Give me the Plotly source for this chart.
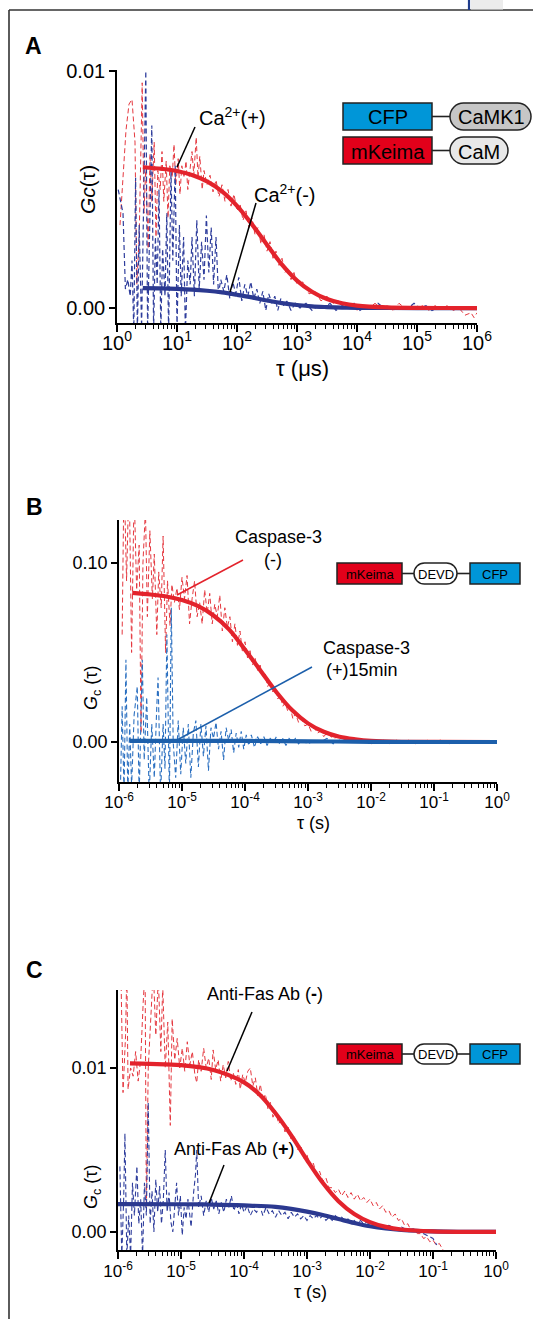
import plotly.graph_objects as go

W, H = 533, 1319
OX, OY = 0, 0   # the page margin is removed below, so positions are page pixels
FONT = "Liberation Sans, Arial, Helvetica, sans-serif"

# ================= DATA =================
# Panel A : tau in microseconds, stored as log10(tau); Gc(tau)
a_fit_logtau = [0.43, 0.75, 1.0, 1.25, 1.5, 1.75, 2.0, 2.25, 2.5, 2.75, 3.0, 3.25, 3.5, 3.75, 4.0, 4.5, 5.0, 5.5, 6.0]
a_fit_ca_plus = [0.00594, 0.00587, 0.00578, 0.00561, 0.00534, 0.00492, 0.00431, 0.00353, 0.00267, 0.00183,
                 0.00116, 0.00069, 0.00038, 0.00020, 0.00010, 0.000025, 0.000006, 0.000002, 0.0]
a_fit_ca_minus = [0.00084, 0.00083, 0.00081, 0.00078, 0.00073, 0.00066, 0.00056, 0.00045, 0.00032, 0.00021,
                  0.00013, 0.00007, 0.00004, 0.00002, 0.00001, 0.000003, 0.0, 0.0, 0.0]

a_data_ca_plus = [
    (0.05, 0.0035), (0.10, 0.0055), (0.15, 0.0075), (0.20, 0.0086), (0.25, 0.0088), (0.30, 0.0070),
    (0.33, 0.0010), (0.37, 0.0030), (0.42, 0.0095), (0.45, 0.0040), (0.48, 0.0060), (0.52, 0.0025),
    (0.55, 0.0065), (0.58, 0.0045), (0.62, 0.0070), (0.65, 0.0030), (0.68, 0.0058), (0.72, 0.0050),
    (0.75, 0.0066), (0.78, 0.0045), (0.82, 0.0062), (0.85, 0.0038), (0.88, 0.0060), (0.92, 0.0055),
    (0.95, 0.0069), (0.98, 0.0052), (1.02, 0.0063), (1.05, 0.0048), (1.08, 0.0060), (1.12, 0.0055),
    (1.15, 0.0062), (1.18, 0.0050), (1.22, 0.0058), (1.25, 0.0066), (1.28, 0.0056), (1.32, 0.0072),
    (1.35, 0.0055), (1.38, 0.0064), (1.42, 0.0050), (1.45, 0.0058), (1.50, 0.0052), (1.55, 0.0056),
    (1.60, 0.0049), (1.65, 0.0054), (1.70, 0.0047), (1.75, 0.0052), (1.80, 0.0045), (1.85, 0.0050),
    (1.90, 0.0043), (1.95, 0.0048), (2.00, 0.0041), (2.05, 0.0044), (2.10, 0.0037), (2.15, 0.0041),
    (2.20, 0.0034), (2.25, 0.0038), (2.30, 0.0031), (2.35, 0.0034), (2.40, 0.0027), (2.45, 0.0031),
    (2.50, 0.0024), (2.55, 0.0028), (2.60, 0.0021), (2.65, 0.0024), (2.70, 0.0018), (2.75, 0.0021),
    (2.80, 0.0015), (2.85, 0.0017), (2.90, 0.0012), (2.95, 0.0015), (3.00, 0.0010), (3.10, 0.0011),
    (3.20, 0.0006), (3.30, 0.0007), (3.40, 0.0003), (3.50, 0.0005), (3.60, 0.0002), (3.70, 0.0003),
    (3.80, 0.0000), (3.90, 0.0002), (4.00, -0.0001), (4.10, 0.0001), (4.20, 0.0000), (4.30, 0.0002),
    (4.40, 0.0000), (4.50, 0.0001), (4.60, -0.0001), (4.70, 0.0002), (4.80, 0.0000), (4.90, 0.0001),
    (5.00, 0.0000), (5.10, 0.0001), (5.20, -0.0001), (5.30, 0.0001), (5.40, 0.0000), (5.50, 0.0001),
    (5.60, -0.0001), (5.70, 0.0000), (5.80, -0.0003), (5.90, -0.0002), (5.95, -0.0004), (6.00, -0.0002),
]
a_data_ca_minus = [
    (0.02, 0.0050), (0.06, 0.0045), (0.10, 0.0040), (0.14, 0.0008), (0.18, 0.0012), (0.22, 0.0005),
    (0.25, 0.0020), (0.28, -0.0010), (0.31, 0.0055), (0.34, -0.0010), (0.37, 0.0035), (0.41, -0.0008),
    (0.45, 0.0045), (0.48, 0.0100), (0.51, -0.0010), (0.55, 0.0040), (0.58, 0.0077), (0.61, -0.0010),
    (0.64, 0.0030), (0.67, 0.0010), (0.70, 0.0050), (0.73, -0.0010), (0.76, 0.0025), (0.80, 0.0005),
    (0.83, 0.0040), (0.86, -0.0010), (0.90, 0.0058), (0.93, 0.0020), (0.97, 0.0060), (1.00, -0.0008),
    (1.04, 0.0035), (1.07, 0.0005), (1.11, 0.0030), (1.14, -0.0010), (1.18, 0.0020), (1.22, 0.0010),
    (1.25, 0.0030), (1.29, 0.0005), (1.33, 0.0037), (1.37, 0.0008), (1.41, 0.0028), (1.45, 0.0012),
    (1.49, 0.0039), (1.53, 0.0015), (1.57, 0.0034), (1.61, 0.0010), (1.65, 0.0030), (1.69, 0.0006),
    (1.73, 0.0012), (1.78, 0.0007), (1.83, 0.0014), (1.88, 0.0004), (1.93, 0.0011), (1.98, 0.0006),
    (2.03, 0.0013), (2.08, 0.0003), (2.13, 0.0010), (2.18, 0.0005), (2.23, 0.0011), (2.28, 0.0004),
    (2.33, 0.0008), (2.38, 0.0002), (2.43, 0.0007), (2.48, -0.0001), (2.53, 0.0006), (2.58, 0.0002),
    (2.63, 0.0005), (2.68, -0.0001), (2.73, 0.0004), (2.78, 0.0001), (2.83, 0.0003), (2.90, -0.0001),
    (2.97, 0.0002), (3.05, 0.0000), (3.15, 0.0002), (3.25, -0.0001), (3.35, 0.0001), (3.45, 0.0000),
    (3.55, 0.0002), (3.65, -0.0001), (3.75, 0.0001), (3.85, 0.0000), (3.95, 0.0002), (4.05, -0.0001),
    (4.15, 0.0001), (4.25, 0.0000), (4.35, 0.0002), (4.45, 0.0000), (4.55, 0.0001), (4.65, -0.0001),
    (4.75, 0.0001), (4.85, 0.0000), (4.95, 0.0002), (5.05, 0.0000), (5.15, 0.0001), (5.25, -0.0001),
    (5.33, 0.0000),
]

# Panel B : tau in seconds, stored as log10(tau)
b_fit_logtau_minus = [-5.79, -5.5, -5.25, -5.0, -4.75, -4.5, -4.25, -4.0, -3.75, -3.5, -3.25, -3.0,
                      -2.75, -2.5, -2.25, -2.0, -1.5, -1.0, 0.0]
b_fit_minus = [0.0833, 0.0824, 0.0813, 0.0793, 0.0760, 0.0707, 0.0628, 0.0515, 0.0397, 0.0278, 0.0177,
               0.0104, 0.0057, 0.0029, 0.0015, 0.00065, 0.00012, 0.00002, 0.0]
b_fit_logtau_plus = [-5.83, -5.0, -4.0, -3.0, -2.0, -1.0, 0.0]
b_fit_plus = [0.0006, 0.0006, 0.0006, 0.0004, 0.0001, 0.0, 0.0]

b_data_minus = [
    (-5.95, 0.060), (-5.92, 0.150), (-5.88, 0.090), (-5.84, 0.150), (-5.80, 0.050), (-5.76, 0.140),
    (-5.72, 0.085), (-5.68, 0.110), (-5.65, 0.005), (-5.62, 0.100), (-5.58, 0.130), (-5.55, 0.070),
    (-5.51, 0.118), (-5.47, 0.080), (-5.44, 0.105), (-5.40, 0.060), (-5.37, 0.095), (-5.33, 0.075),
    (-5.30, 0.115), (-5.26, 0.050), (-5.23, 0.090), (-5.19, 0.065), (-5.16, 0.088), (-5.12, 0.078),
    (-5.08, 0.086), (-5.04, 0.074), (-5.00, 0.092), (-4.96, 0.080), (-4.92, 0.093), (-4.88, 0.066),
    (-4.84, 0.080), (-4.80, 0.090), (-4.76, 0.070), (-4.72, 0.078), (-4.68, 0.066), (-4.64, 0.085),
    (-4.60, 0.072), (-4.56, 0.083), (-4.52, 0.066), (-4.48, 0.077), (-4.44, 0.070), (-4.40, 0.082),
    (-4.36, 0.062), (-4.32, 0.075), (-4.28, 0.064), (-4.24, 0.070), (-4.20, 0.056), (-4.16, 0.066),
    (-4.12, 0.054), (-4.08, 0.062), (-4.04, 0.050), (-4.00, 0.056), (-3.96, 0.047), (-3.92, 0.051),
    (-3.88, 0.043), (-3.84, 0.047), (-3.80, 0.040), (-3.76, 0.043), (-3.72, 0.036), (-3.68, 0.038),
    (-3.64, 0.031), (-3.60, 0.034), (-3.56, 0.028), (-3.52, 0.030), (-3.48, 0.024), (-3.44, 0.026),
    (-3.40, 0.020), (-3.36, 0.022), (-3.32, 0.017), (-3.28, 0.019), (-3.24, 0.013), (-3.20, 0.016),
    (-3.15, 0.011), (-3.10, 0.013), (-3.05, 0.009), (-3.00, 0.010), (-2.95, 0.006), (-2.90, 0.008),
    (-2.85, 0.005), (-2.80, 0.006), (-2.75, 0.003), (-2.70, 0.005), (-2.60, 0.002), (-2.50, 0.003),
    (-2.40, 0.001), (-2.30, 0.002), (-2.20, 0.000), (-2.10, 0.001), (-2.00, -0.001), (-1.90, 0.000),
    (-1.80, 0.001), (-1.70, -0.001), (-1.60, 0.001), (-1.50, 0.000), (-1.40, 0.001), (-1.30, -0.001),
    (-1.20, 0.000), (-1.10, 0.001), (-1.00, 0.000), (-0.90, 0.001), (-0.80, 0.000), (-0.75, -0.001),
]
b_data_plus = [
    (-5.98, -0.030), (-5.95, 0.020), (-5.92, -0.030), (-5.89, 0.046), (-5.86, -0.030), (-5.83, 0.010),
    (-5.80, -0.025), (-5.76, 0.015), (-5.71, 0.031), (-5.68, -0.030), (-5.63, 0.046), (-5.60, -0.010),
    (-5.56, 0.025), (-5.52, -0.030), (-5.48, 0.010), (-5.44, -0.020), (-5.40, 0.020), (-5.38, 0.036),
    (-5.34, -0.030), (-5.30, 0.010), (-5.27, -0.015), (-5.24, 0.060), (-5.20, -0.030), (-5.17, 0.075),
    (-5.14, 0.000), (-5.10, -0.020), (-5.06, 0.012), (-5.02, -0.018), (-4.98, 0.008), (-4.94, -0.012),
    (-4.90, 0.010), (-4.86, -0.020), (-4.82, 0.005), (-4.78, 0.012), (-4.74, -0.014), (-4.70, 0.010),
    (-4.66, -0.008), (-4.62, 0.009), (-4.58, -0.016), (-4.54, 0.008), (-4.50, 0.002), (-4.46, 0.011),
    (-4.42, -0.004), (-4.38, 0.006), (-4.34, -0.010), (-4.30, 0.008), (-4.26, 0.001), (-4.22, 0.007),
    (-4.18, -0.006), (-4.14, 0.005), (-4.10, -0.003), (-4.06, 0.006), (-4.02, -0.004), (-3.98, 0.004),
    (-3.94, -0.002), (-3.90, 0.004), (-3.85, -0.003), (-3.80, 0.003), (-3.75, -0.001), (-3.70, 0.003),
    (-3.65, -0.002), (-3.60, 0.002), (-3.55, 0.000), (-3.50, 0.003), (-3.45, -0.001), (-3.40, 0.002),
    (-3.35, -0.002), (-3.30, 0.002), (-3.25, 0.000), (-3.20, 0.002), (-3.15, -0.001), (-3.10, 0.001),
    (-3.00, -0.001), (-2.90, 0.001), (-2.80, 0.000), (-2.70, 0.002), (-2.60, -0.001), (-2.50, 0.001),
    (-2.40, 0.000),
]

# Panel C : tau in seconds, stored as log10(tau)
c_fit_logtau_minus = [-5.81, -5.5, -5.0, -4.5, -4.0, -3.75, -3.5, -3.25, -3.0, -2.75, -2.5, -2.25, -2.0,
                      -1.75, -1.5, -1.0, -0.5, 0.0]
c_fit_minus = [0.01028, 0.01025, 0.01017, 0.00989, 0.00912, 0.00837, 0.00724, 0.00589, 0.00439, 0.00300,
               0.00188, 0.00110, 0.00060, 0.00031, 0.00015, 0.00003, 0.000005, 0.0]
c_fit_logtau_plus = [-6.0, -5.0, -4.5, -4.0, -3.5, -3.25, -3.0, -2.75, -2.5, -2.25, -2.0, -1.75, -1.5,
                     -1.0, -0.5, 0.0]
c_fit_plus = [0.00170, 0.00169, 0.00167, 0.00162, 0.00153, 0.00141, 0.00124, 0.00103, 0.00079, 0.00055,
              0.00035, 0.00021, 0.00012, 0.00003, 0.000005, 0.0]

c_data_minus = [
    (-5.95, 0.0150), (-5.92, 0.0085), (-5.88, 0.0120), (-5.86, 0.0160), (-5.84, 0.0087), (-5.80, 0.0100),
    (-5.76, 0.0095), (-5.72, 0.0110), (-5.68, 0.0092), (-5.64, 0.0105), (-5.60, 0.0140), (-5.57, 0.0160),
    (-5.55, 0.0015), (-5.52, 0.0100), (-5.48, 0.0130), (-5.44, 0.0160), (-5.40, 0.0120), (-5.36, 0.0155),
    (-5.32, 0.0110), (-5.29, 0.0150), (-5.25, 0.0100), (-5.21, 0.0128), (-5.17, 0.0065), (-5.14, 0.0130),
    (-5.10, 0.0105), (-5.06, 0.0118), (-5.02, 0.0100), (-4.98, 0.0112), (-4.94, 0.0098), (-4.90, 0.0116),
    (-4.86, 0.0102), (-4.82, 0.0110), (-4.78, 0.0096), (-4.75, 0.0091), (-4.72, 0.0105), (-4.68, 0.0098),
    (-4.64, 0.0112), (-4.60, 0.0100), (-4.56, 0.0106), (-4.52, 0.0093), (-4.49, 0.0111), (-4.45, 0.0099),
    (-4.41, 0.0105), (-4.37, 0.0092), (-4.33, 0.0102), (-4.29, 0.0094), (-4.25, 0.0104), (-4.21, 0.0092),
    (-4.17, 0.0097), (-4.13, 0.0090), (-4.09, 0.0099), (-4.06, 0.0087), (-4.02, 0.0096), (-3.98, 0.0091),
    (-3.94, 0.0098), (-3.90, 0.0100), (-3.86, 0.0089), (-3.82, 0.0094), (-3.78, 0.0083), (-3.74, 0.0090),
    (-3.70, 0.0080), (-3.66, 0.0084), (-3.62, 0.0075), (-3.58, 0.0079), (-3.54, 0.0070), (-3.50, 0.0074),
    (-3.45, 0.0066), (-3.40, 0.0069), (-3.35, 0.0061), (-3.30, 0.0064), (-3.25, 0.0056), (-3.20, 0.0058),
    (-3.15, 0.0050), (-3.10, 0.0053), (-3.05, 0.0045), (-3.00, 0.0047), (-2.95, 0.0040), (-2.90, 0.0042),
    (-2.85, 0.0035), (-2.80, 0.0037), (-2.75, 0.0031), (-2.70, 0.0033), (-2.65, 0.0027), (-2.60, 0.0027),
    (-2.55, 0.0024), (-2.50, 0.0026), (-2.45, 0.0022), (-2.40, 0.0025), (-2.35, 0.0021), (-2.30, 0.0024),
    (-2.25, 0.0020), (-2.20, 0.0023), (-2.15, 0.0019), (-2.10, 0.0021), (-2.05, 0.0018), (-2.00, 0.0020),
    (-1.95, 0.0016), (-1.90, 0.0018), (-1.85, 0.0014), (-1.80, 0.0016), (-1.75, 0.0012), (-1.70, 0.0013),
    (-1.65, 0.0009), (-1.60, 0.0011), (-1.55, 0.0007), (-1.50, 0.0008), (-1.45, 0.0004), (-1.40, 0.0005),
    (-1.35, 0.0001), (-1.30, 0.0002), (-1.25, -0.0001), (-1.20, -0.0001), (-1.15, -0.0004), (-1.10, -0.0003),
    (-1.05, -0.0006), (-1.00, -0.0005), (-0.95, -0.0008), (-0.90, -0.0007), (-0.84, -0.0011),
]
c_data_plus = [
    (-5.97, 0.0040), (-5.94, -0.0015), (-5.91, 0.0020), (-5.89, 0.0060), (-5.86, -0.0015), (-5.83, 0.0010),
    (-5.80, -0.0015), (-5.77, 0.0030), (-5.74, 0.0010), (-5.70, 0.0040), (-5.67, 0.0005), (-5.64, 0.0020),
    (-5.61, -0.0015), (-5.58, 0.0030), (-5.55, 0.0010), (-5.52, 0.0079), (-5.49, 0.0005), (-5.46, 0.0025),
    (-5.43, 0.0000), (-5.40, 0.0032), (-5.37, 0.0012), (-5.34, 0.0028), (-5.31, 0.0005), (-5.28, 0.0020),
    (-5.25, 0.0050), (-5.22, 0.0012), (-5.19, 0.0024), (-5.16, 0.0006), (-5.13, 0.0000), (-5.10, 0.0018),
    (-5.07, 0.0030), (-5.04, 0.0010), (-5.01, 0.0022), (-4.98, -0.0002), (-4.95, 0.0015), (-4.92, 0.0008),
    (-4.89, 0.0020), (-4.86, 0.0010), (-4.84, 0.0003), (-4.80, 0.0024), (-4.77, 0.0035), (-4.75, 0.0050),
    (-4.72, 0.0015), (-4.68, 0.0022), (-4.64, 0.0010), (-4.60, 0.0019), (-4.56, 0.0012), (-4.52, 0.0021),
    (-4.48, 0.0014), (-4.44, 0.0019), (-4.40, 0.0011), (-4.36, 0.0018), (-4.32, 0.0012), (-4.28, 0.0020),
    (-4.24, 0.0015), (-4.20, 0.0022), (-4.16, 0.0013), (-4.12, 0.0018), (-4.08, 0.0011), (-4.04, 0.0017),
    (-4.00, 0.0012), (-3.95, 0.0016), (-3.90, 0.0010), (-3.85, 0.0014), (-3.80, 0.0012), (-3.75, 0.0016),
    (-3.70, 0.0010), (-3.65, 0.0015), (-3.60, 0.0011), (-3.55, 0.0013), (-3.50, 0.0009), (-3.45, 0.0013),
    (-3.40, 0.0010), (-3.35, 0.0012), (-3.30, 0.0008), (-3.25, 0.0012), (-3.20, 0.0009), (-3.15, 0.0011),
    (-3.10, 0.0008), (-3.05, 0.0010), (-3.00, 0.0007), (-2.95, 0.0010), (-2.90, 0.0008), (-2.85, 0.0010),
    (-2.80, 0.0008), (-2.75, 0.0010), (-2.70, 0.0007), (-2.65, 0.0009), (-2.60, 0.0007), (-2.55, 0.0010),
    (-2.50, 0.0008), (-2.45, 0.0009), (-2.40, 0.0007), (-2.35, 0.0008), (-2.30, 0.0006), (-2.25, 0.0007),
    (-2.20, 0.0005), (-2.15, 0.0007), (-2.10, 0.0005), (-2.05, 0.0006), (-2.00, 0.0004), (-1.90, 0.0005),
    (-1.80, 0.0003), (-1.70, 0.0004), (-1.60, 0.0002), (-1.50, 0.0003), (-1.40, 0.0001), (-1.30, 0.0002),
    (-1.20, 0.0000), (-1.10, -0.0002), (-1.00, -0.0004), (-0.94, -0.0008),
]

# tick labels (exponents of ten)
a_xticks = [0, 1, 2, 3, 4, 5, 6]
bc_xticks = [-6, -5, -4, -3, -2, -1, 0]

# ================= STYLE =================
RED = "#e3232c"
RED_D = "#e5383f"
NAVY = "#2b3990"
NAVY_D = "#2e3d9c"
BLUE_B = "#1c5fab"
BLUE_BD = "#2a6fc0"
CFP_BLUE = "#0096d8"
KEIMA_RED = "#e2001a"


def px(x):
    return (x - OX) / W


def py(y):
    return 1 - (y - OY) / H


def tau(lt):
    return [10 ** v for v in lt]


def unzip(pairs):
    return tau([p[0] for p in pairs]), [p[1] for p in pairs]


fig = go.Figure()


def dashed(pairs, color, xa, ya, width=1.1):
    x, y = unzip(pairs)
    fig.add_trace(go.Scatter(x=x, y=y, mode="lines", xaxis=xa, yaxis=ya, hoverinfo="skip",
                             line=dict(color=color, width=width, dash="5px,3px")))


def fit(lt, vals, color, xa, ya, width=4.2):
    fig.add_trace(go.Scatter(x=tau(lt), y=vals, mode="lines", xaxis=xa, yaxis=ya, hoverinfo="skip",
                             line=dict(color=color, width=width, shape="spline", smoothing=1.0)))


# Panel A
dashed(a_data_ca_plus, RED_D, "x", "y", 1.0)
dashed(a_data_ca_minus, NAVY_D, "x", "y", 1.2)
fit(a_fit_logtau, a_fit_ca_minus, NAVY, "x", "y")
fit(a_fit_logtau, a_fit_ca_plus, RED, "x", "y")
# Panel B
dashed(b_data_minus, RED_D, "x2", "y2", 1.0)
dashed(b_data_plus, BLUE_BD, "x2", "y2", 1.1)
fit(b_fit_logtau_minus, b_fit_minus, RED, "x2", "y2")
fit(b_fit_logtau_plus, b_fit_plus, BLUE_B, "x2", "y2")
# Panel C
dashed(c_data_minus, RED_D, "x3", "y3", 1.0)
dashed(c_data_plus, NAVY_D, "x3", "y3", 1.1)
fit(c_fit_logtau_plus, c_fit_plus, NAVY, "x3", "y3")
fit(c_fit_logtau_minus, c_fit_minus, RED, "x3", "y3")


def xaxis(dom, anchor, ticks, size, standoff):
    return dict(type="log", domain=dom, anchor=anchor, range=[ticks[0], ticks[-1]],
                tickvals=[10 ** t for t in ticks],
                ticktext=["10<sup>%d</sup>" % t for t in ticks],
                tickfont=dict(family=FONT, size=size, color="black"), ticklabelstandoff=standoff,
                showline=True, linecolor="black", linewidth=1.6, ticks="outside", ticklen=7,
                tickwidth=1.5, tickcolor="black", showgrid=False, zeroline=False, automargin=False,
                minor=dict(ticks="outside", ticklen=4, tickwidth=1, tickcolor="black", dtick="D1",
                           showgrid=False))


def yaxis(dom, anchor, rng, vals, texts, size):
    return dict(domain=dom, anchor=anchor, range=rng, tickvals=vals, ticktext=texts,
                tickfont=dict(family=FONT, size=size, color="black"), automargin=False,
                showline=True, linecolor="black", linewidth=1.6, ticks="outside", ticklen=6,
                tickwidth=1.5, tickcolor="black", showgrid=False, zeroline=False)


fig.update_layout(
    template="none",
    width=W, height=H, autosize=False,
    margin=dict(l=0, r=0, t=0, b=0, pad=0, autoexpand=False),
    paper_bgcolor="white", plot_bgcolor="white", showlegend=False,
    font=dict(family=FONT, color="black"),
    xaxis=xaxis([px(117), px(477)], "y", a_xticks, 20, -6),
    yaxis=yaxis([py(323), py(70)], "x", [-0.00063, 0.01004], [0, 0.01], ["0.00", "0.01"], 20),
    xaxis2=xaxis([px(119), px(497)], "y2", bc_xticks, 17, -3),
    yaxis2=yaxis([py(782), py(520)], "x2", [-0.02235, 0.12402], [0, 0.1], ["0.00", "0.10"], 18),
    xaxis3=xaxis([px(118), px(496)], "y3", bc_xticks, 17, -2),
    yaxis3=yaxis([py(1250), py(990)], "x3", [-0.0011, 0.014756], [0, 0.01], ["0.00", "0.01"], 18),
)

shapes = []
annos = []


def line(x0, y0, x1, y1, color="black", width=1.5):
    shapes.append(dict(type="line", xref="paper", yref="paper", x0=px(x0), y0=py(y0), x1=px(x1),
                       y1=py(y1), line=dict(color=color, width=width)))


def rect(x0, y0, x1, y1, fill, lw=1.5):
    shapes.append(dict(type="rect", xref="paper", yref="paper", x0=px(x0), y0=py(y0), x1=px(x1),
                       y1=py(y1), fillcolor=fill, line=dict(color="#222", width=lw)))


def pill(x0, y0, x1, y1, fill, lw=1.5):
    r = (y1 - y0) / 2.0
    k = 0.5523 * r
    ym = (y0 + y1) / 2.0

    def P(x, y):
        return "%.5f,%.5f" % (px(x), py(y))
    d = ("M" + P(x0 + r, y0) + " L" + P(x1 - r, y0) +
         " C" + P(x1 - r + k, y0) + " " + P(x1, ym - k) + " " + P(x1, ym) +
         " C" + P(x1, ym + k) + " " + P(x1 - r + k, y1) + " " + P(x1 - r, y1) +
         " L" + P(x0 + r, y1) +
         " C" + P(x0 + r - k, y1) + " " + P(x0, ym + k) + " " + P(x0, ym) +
         " C" + P(x0, ym - k) + " " + P(x0 + r - k, y0) + " " + P(x0 + r, y0) + " Z")
    shapes.append(dict(type="path", xref="paper", yref="paper", path=d, fillcolor=fill,
                       line=dict(color="#222", width=lw)))


def text(x, y, s, size, color="black", angle=0, bold=False):
    if bold:
        s = "<b>" + s + "</b>"
    annos.append(dict(xref="paper", yref="paper", x=px(x), y=py(y), text=s, showarrow=False,
                      xanchor="center", yanchor="middle", textangle=angle,
                      font=dict(family=FONT, size=size, color=color)))


# frame of the figure
line(9, 10, 533, 10, "#333", 1.6)
line(9, 10, 9, 1319, "#333", 1.6)
line(469, 0, 469, 10, "#1f3c8c", 2.2)
shapes.append(dict(type="rect", xref="paper", yref="paper", x0=px(471), y0=py(9.5), x1=px(503), y1=py(0),
                   fillcolor="#ececec", line=dict(width=0)))

# ---- Panel A decorations ----
text(33, 46, "A", 23, bold=True)
text(88, 190, "<i>Gc</i>(τ)", 21, angle=-90)
text(302, 368, "τ (μs)", 22)
text(232, 116, "Ca<sup>2+</sup>(+)", 20)
line(195, 127, 177, 167)
text(285, 193, "Ca<sup>2+</sup>(-)", 20)
line(256, 203, 230, 292)
rect(343, 103, 432, 130, CFP_BLUE)
line(432, 116.5, 450, 116.5, "#222", 1.6)
pill(450, 103, 531, 130, "#c6c6c6")
rect(343, 137, 432, 164, KEIMA_RED)
line(432, 150.5, 450, 150.5, "#222", 1.6)
pill(450, 137, 508, 164, "#e8e8e8")
text(387.5, 117.5, "CFP", 20)
text(491, 117.5, "CaMK1", 20)
text(387.5, 151.5, "mKeima", 20)
text(479, 151.5, "CaM", 20)

# ---- Panel B decorations ----
text(34, 507, "B", 23, bold=True)
text(92, 688, "<i>G</i><sub>c</sub> (τ)", 18, angle=-90)
text(313, 823, "τ (s)", 18)
text(278, 537, "Caspase-3", 18)
text(273, 560, "(-)", 18)
line(243, 560, 177, 595, RED, 1.5)
text(366, 648, "Caspase-3", 18)
text(362, 670, "(+)15min", 18)
line(312, 667, 177, 740, BLUE_B, 1.5)


def devd(y0, y1):
    ym = (y0 + y1) / 2.0
    rect(337, y0, 402, y1, KEIMA_RED)
    line(402, ym, 414, ym, "#222", 1.6)
    pill(414, y0, 457, y1, "white")
    line(457, ym, 470, ym, "#222", 1.6)
    rect(470, y0, 520, y1, CFP_BLUE)
    text(369.5, ym + 0.5, "mKeima", 13)
    text(435.5, ym + 0.5, "DEVD", 13)
    text(495, ym + 0.5, "CFP", 13)


devd(563, 584)

# ---- Panel C decorations ----
text(34, 970, "C", 23, bold=True)
text(92, 1187, "<i>G</i><sub>c</sub> (τ)", 18, angle=-90)
text(310, 1292, "τ (s)", 18)
text(265, 994, "Anti-Fas Ab (<b>-</b>)", 18)
line(252, 1012, 227, 1071)
text(234, 1149, "Anti-Fas Ab (<b>+</b>)", 18)
line(224, 1165, 209, 1203)
devd(1044, 1064)

fig.update_layout(shapes=shapes, annotations=annos)
fig.write_html("out.html", config={"displayModeBar": False},
               post_script="document.body.style.margin='0';"
               "document.documentElement.style.overflow='hidden';")
